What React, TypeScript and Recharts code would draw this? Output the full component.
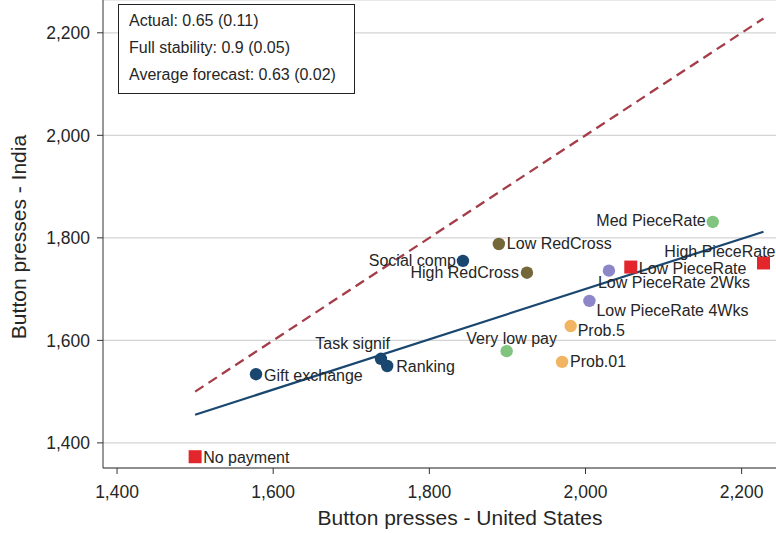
import React from "react";
import {
    ScatterChart,
    Scatter,
    XAxis,
    YAxis,
    CartesianGrid,
    ReferenceLine,
} from "recharts";

// treatment arms, US vs India button presses
const names = [
    "No payment",
    "Gift exchange",
    "Task signif",
    "Ranking",
    "Social comp",
    "Low RedCross",
    "High RedCross",
    "Very low pay",
    "Prob.5",
    "Prob.01",
    "Low PieceRate 4Wks",
    "Low PieceRate 2Wks",
    "Low PieceRate",
    "Med PieceRate",
    "High PieceRate",
];
const usPresses = [1500, 1578, 1738, 1746, 1843, 1889, 1925, 1899, 1981, 1970, 2005, 2030, 2058, 2163, 2228];
const indiaPresses = [1373, 1534, 1564, 1550, 1755, 1788, 1732, 1579, 1628, 1558, 1677, 1736, 1743, 1831, 1751];
const groups = [
    "piece", "social", "social", "social", "social", "charity", "charity",
    "pay", "prob", "prob", "time", "time", "piece", "pay", "piece",
];

const xTicks = [1400, 1600, 1800, 2000, 2200];
const yTicks = [1400, 1600, 1800, 2000, 2200];

// 45 degree line and linear fit
const diagX = [1500, 2228];
const fitX = [1500, 2228];
const fitY = [1455, 1812];

const statLines = ["Actual: 0.65 (0.11)", "Full stability: 0.9 (0.05)", "Average forecast: 0.63 (0.02)"];

const groupStyle: Record<string, { color: string; square?: boolean }> = {
    piece: { color: "#e3262b", square: true },
    social: { color: "#1a476f" },
    charity: { color: "#74673a" },
    pay: { color: "#80c47f" },
    prob: { color: "#f0b462" },
    time: { color: "#8d86c8" },
};

// anchor, dx, dy for each label
const labelPlace: Record<string, [string, number, number]> = {
    "No payment": ["start", 8, 1],
    "Gift exchange": ["start", 8, 1],
    "Task signif": ["end", 9, -15],
    Ranking: ["start", 9, 1],
    "Social comp": ["end", -7, 0],
    "Low RedCross": ["start", 8, 0],
    "High RedCross": ["end", -8, 0],
    "Very low pay": ["middle", 5, -13],
    "Prob.5": ["start", 7, 4],
    "Prob.01": ["start", 8, 0],
    "Low PieceRate 4Wks": ["start", 7, 10],
    "Low PieceRate 2Wks": ["start", -11, 12],
    "Low PieceRate": ["start", 8, 1],
    "Med PieceRate": ["end", -7, -1],
    "High PieceRate": ["end", 12, -11],
};

const font = "'Liberation Sans', Arial, Helvetica, sans-serif";
const fmt = (v: number) => v.toLocaleString("en-US");

const groupKeys = ["social", "charity", "pay", "prob", "time", "piece"];

const Marker = (props: any) => {
    const { cx, cy, payload } = props;
    const st = groupStyle[payload.group];
    const [anchor, dx, dy] = labelPlace[payload.name];
    return (
        <g>
            {st.square ? (
                <rect x={cx - 6.5} y={cy - 6.5} width={13} height={13} fill={st.color} />
            ) : (
                <circle cx={cx} cy={cy} r={6.2} fill={st.color} />
            )}
            <text
                x={cx + dx}
                y={cy + dy}
                textAnchor={anchor}
                dominantBaseline="central"
                fontSize={16}
                fontFamily={font}
                fill="#262626"
            >
                {payload.name}
            </text>
        </g>
    );
};

export default function App() {
    const points = names.map((name, i) => ({
        name,
        x: usPresses[i],
        y: indiaPresses[i],
        group: groups[i],
    }));

    return (
        <div style={{ position: "absolute", left: 0, top: 0, width: 776, height: 533, background: "#fff", fontFamily: font }}>
            <ScatterChart width={776} height={533} margin={{ top: 0, right: 0, bottom: 0, left: 0 }}>
                <CartesianGrid vertical={false} stroke="#d4d4d4" strokeWidth={1.2} />
                <XAxis
                    type="number"
                    dataKey="x"
                    domain={[1382, 2244]}
                    ticks={xTicks}
                    allowDataOverflow
                    tickFormatter={fmt}
                    height={65}
                    stroke="#333"
                    tickSize={6}
                    tickMargin={12}
                    tick={{ fill: "#262626", fontSize: 17.5, fontFamily: font }}
                    label={{
                        content: () => (
                            <text x={460} y={525} textAnchor="middle" fontSize={21} fontFamily={font} fill="#262626">
                                Button presses - United States
                            </text>
                        ),
                    }}
                />
                <YAxis
                    type="number"
                    dataKey="y"
                    domain={[1351, 2264]}
                    ticks={yTicks}
                    allowDataOverflow
                    tickFormatter={fmt}
                    width={103}
                    stroke="#333"
                    tickSize={6}
                    tickMargin={7}
                    tick={{ fill: "#262626", fontSize: 17.5, fontFamily: font }}
                    label={{
                        content: () => (
                            <text
                                x={18}
                                y={237}
                                transform="rotate(-90 18 237)"
                                textAnchor="middle"
                                dominantBaseline="central"
                                fontSize={21}
                                fontFamily={font}
                                fill="#262626"
                            >
                                Button presses - India
                            </text>
                        ),
                    }}
                />
                <ReferenceLine
                    segment={[{ x: diagX[0], y: diagX[0] }, { x: diagX[1], y: diagX[1] }]}
                    stroke="#a43d48"
                    strokeWidth={2.3}
                    strokeDasharray="10 6"
                />
                <ReferenceLine
                    segment={[{ x: fitX[0], y: fitY[0] }, { x: fitX[1], y: fitY[1] }]}
                    stroke="#1a476f"
                    strokeWidth={2.2}
                />
                {groupKeys.map((g) => (
                    <Scatter
                        key={g}
                        data={points.filter((p) => p.group === g)}
                        shape={<Marker />}
                        isAnimationActive={false}
                    />
                ))}
            </ScatterChart>
            <div
                style={{
                    position: "absolute",
                    left: 118,
                    top: 4,
                    width: 225,
                    height: 86,
                    border: "1px solid #222",
                    background: "#fff",
                    paddingLeft: 10,
                    paddingTop: 2,
                    boxSizing: "content-box",
                    fontSize: 16,
                    lineHeight: "27px",
                    color: "#262626",
                }}
            >
                {statLines.map((s) => (
                    <div key={s}>{s}</div>
                ))}
            </div>
        </div>
    );
}
